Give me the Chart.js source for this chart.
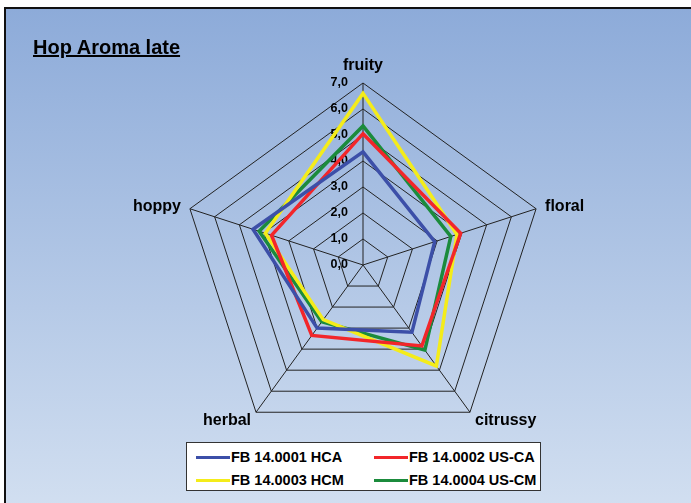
<!DOCTYPE html>
<html>
<head>
<meta charset="utf-8">
<script src="https://cdn.jsdelivr.net/npm/chart.js@4/dist/chart.umd.min.js"></script>
<style>
  html, body { margin: 0; padding: 0; background: #fff; }
  #page { position: relative; width: 691px; height: 503px; overflow: hidden;
          font-family: "Liberation Sans", Arial, sans-serif; }
  #panel { position: absolute; left: 4px; top: 7px; width: 700px; height: 510px;
           border-left: 2px solid #111; border-top: 2px solid #111;
           background: linear-gradient(to bottom, #8dabd9 0%, #d3e0f1 100%); }
  #chart { position: absolute; left: 0; top: 0; }
  #title { position: absolute; left: 33px; top: 36px; font-weight: bold; font-size: 20px;
           text-decoration: underline; text-decoration-thickness: 2px; color: #000; white-space: nowrap; }
  #legend { position: absolute; left: 186px; top: 442px; width: 355px; height: 49px;
            background: #fff; border: 1px solid #333; box-sizing: border-box; }
  .item { position: absolute; display: flex; align-items: center; height: 20px;
          font-weight: bold; font-size: 14.5px; color: #000; white-space: nowrap; }
  .swatch { width: 34px; height: 3px; margin-right: 1px; }
</style>
</head>
<body>
<div id="page">
  <div id="panel"></div>
  <canvas id="chart" width="691" height="503"></canvas>
  <div id="title">Hop Aroma late</div>
  <div id="legend"></div>
</div>
<script>
// Aroma attributes scored on each spoke
const categories = ['fruity', 'floral', 'citrussy', 'herbal', 'hoppy'];

// Hop samples
const seriesNames = ['FB 14.0001 HCA', 'FB 14.0002 US-CA', 'FB 14.0003 HCM', 'FB 14.0004 US-CM'];
const seriesColors = ['#3c4fa8', '#f2262a', '#f4ec1a', '#1b8b3c'];

// Scores per sample (fruity, floral, citrussy, herbal, hoppy)
const hca   = [4.35, 2.90, 3.20, 3.00, 4.45];
const usca  = [5.05, 3.95, 3.85, 3.35, 3.70];
const hcm   = [6.60, 3.80, 4.80, 2.60, 3.95];
const uscm  = [5.35, 3.55, 4.05, 2.70, 4.20];
const seriesValues = [hca, usca, hcm, uscm];

// Radial axis tick labels (0 … 7)
const tickLabels = ['0,0', '1,0', '2,0', '3,0', '4,0', '5,0', '6,0', '7,0'];

const FONT = '"Liberation Sans", Arial, sans-serif';

// Tick labels to the left of the vertical spoke, under the series lines
const tickLabelPlugin = {
  id: 'tickLabelPlugin',
  beforeDatasetsDraw(chart) {
    const s = chart.scales.r;
    const ctx = chart.ctx;
    ctx.save();
    ctx.font = 'bold 12.5px ' + FONT;
    ctx.fillStyle = '#000';
    ctx.textAlign = 'right';
    ctx.textBaseline = 'middle';
    s.ticks.forEach(t => {
      const d = s.getDistanceFromCenterForValue(t.value);
      ctx.fillText(tickLabels[Math.round(t.value)], s.xCenter - 15, s.yCenter - d);
    });
    ctx.restore();
  }
};

// Category names just outside the outer ring
const pointLabelPlugin = {
  id: 'pointLabelPlugin',
  afterDraw(chart) {
    const s = chart.scales.r;
    const ctx = chart.ctx;
    ctx.save();
    ctx.font = 'bold 16px ' + FONT;
    ctx.fillStyle = '#000';
    ctx.textBaseline = 'middle';
    categories.forEach((name, i) => {
      const p = s.getPointPosition(i, s.drawingArea);
      const dx = p.x - s.xCenter;
      const below = p.y > s.yCenter;
      let x = p.x, y = p.y;
      if (Math.abs(dx) < 1) {
        ctx.textAlign = 'center';
        y = p.y - 17;
      } else {
        ctx.textAlign = dx > 0 ? 'left' : 'right';
        x = p.x + Math.sign(dx) * (below ? 5 : 9);
        y = p.y + (below ? 8 : -2);
      }
      ctx.fillText(name, x, y);
    });
    ctx.restore();
  }
};

new Chart(document.getElementById('chart'), {
  type: 'radar',
  data: {
    labels: categories,
    datasets: seriesNames.map((name, i) => ({
      label: name,
      data: seriesValues[i],
      borderColor: seriesColors[i],
      backgroundColor: seriesColors[i],
      borderWidth: 3.5,
      fill: false,
      pointRadius: 0,
      pointHoverRadius: 0,
      tension: 0
    }))
  },
  options: {
    responsive: false,
    devicePixelRatio: 1,
    animation: false,
    layout: { padding: { left: 181, right: 146, top: 83, bottom: 56 } },
    plugins: { legend: { display: false }, tooltip: { enabled: false }, title: { display: false } },
    scales: {
      r: {
        min: 0,
        max: 7,
        ticks: { stepSize: 1, display: false },
        grid: { color: '#222', lineWidth: 1 },
        angleLines: { display: true, color: '#222', lineWidth: 1 },
        pointLabels: { display: false }
      }
    }
  },
  plugins: [tickLabelPlugin, pointLabelPlugin]
});

// Legend: two columns, two rows
const legend = document.getElementById('legend');
const cols = [9, 187];
const rows = [4, 27];
seriesNames.forEach((name, i) => {
  const item = document.createElement('div');
  item.className = 'item';
  item.style.left = cols[i % 2] + 'px';
  item.style.top = rows[Math.floor(i / 2)] + 'px';
  const sw = document.createElement('span');
  sw.className = 'swatch';
  sw.style.background = seriesColors[i];
  const tx = document.createElement('span');
  tx.textContent = name;
  item.appendChild(sw);
  item.appendChild(tx);
  legend.appendChild(item);
});
</script>
</body>
</html>
